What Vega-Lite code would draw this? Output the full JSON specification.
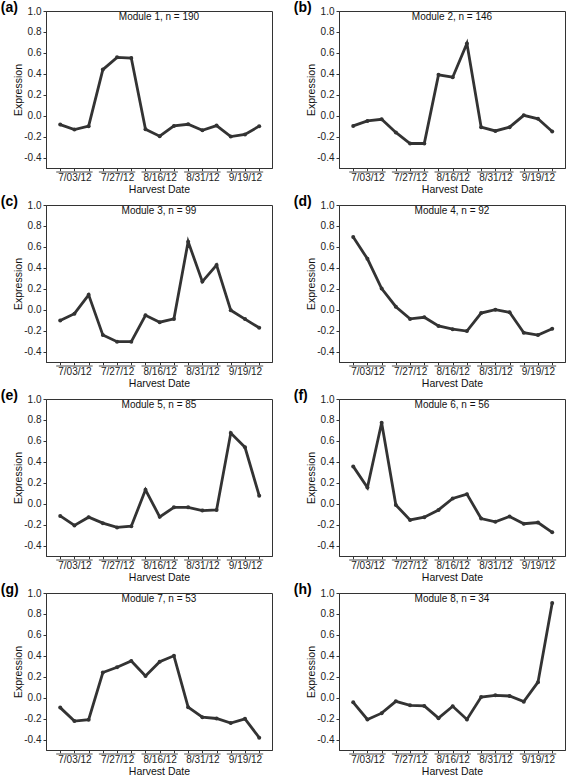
{
  "$schema": "https://vega.github.io/schema/vega-lite/v6.json",
  "padding": {"left": 0, "top": 0, "right": 0, "bottom": 0},
  "background": "white",
  "columns": 2,
  "spacing": {"row": -1, "column": 20},
  "config": {
    "font": "Liberation Sans",
    "view": {"stroke": "#333", "strokeWidth": 1},
    "axis": {
      "grid": false, "domainColor": "#333", "tickColor": "#333", "tickSize": 3,
      "labelFontSize": 10, "labelColor": "#222", "labelPadding": 2, "labelOverlap": false, "labelFlush": false,
      "titleFontSize": 10.5, "titleFontWeight": "normal", "titleColor": "#111", "titlePadding": 2
    },
    "axisX": {"labelPadding": 1},
    "axisY": {"titlePadding": 0},
    "title": {"fontSize": 14, "fontWeight": "bold", "anchor": "start", "frame": "bounds", "offset": -9, "dx": -13, "color": "#000"}
  },
  "datasets": {
    "expr": [
      {"module":1,"sample":1,"expression":-0.085},{"module":1,"sample":2,"expression":-0.133},{"module":1,"sample":3,"expression":-0.10},{"module":1,"sample":4,"expression":0.44},{"module":1,"sample":5,"expression":0.557},{"module":1,"sample":6,"expression":0.55},{"module":1,"sample":7,"expression":-0.13},{"module":1,"sample":8,"expression":-0.196},{"module":1,"sample":9,"expression":-0.098},{"module":1,"sample":10,"expression":-0.082},{"module":1,"sample":11,"expression":-0.139},{"module":1,"sample":12,"expression":-0.095},{"module":1,"sample":13,"expression":-0.20},{"module":1,"sample":14,"expression":-0.18},{"module":1,"sample":15,"expression":-0.10},
      {"module":2,"sample":1,"expression":-0.098},{"module":2,"sample":2,"expression":-0.05},{"module":2,"sample":3,"expression":-0.035},{"module":2,"sample":4,"expression":-0.16},{"module":2,"sample":5,"expression":-0.266},{"module":2,"sample":6,"expression":-0.266},{"module":2,"sample":7,"expression":0.39},{"module":2,"sample":8,"expression":0.367},{"module":2,"sample":9,"expression":0.69},{"module":2,"sample":10,"expression":-0.11},{"module":2,"sample":11,"expression":-0.146},{"module":2,"sample":12,"expression":-0.11},{"module":2,"sample":13,"expression":0.003},{"module":2,"sample":14,"expression":-0.03},{"module":2,"sample":15,"expression":-0.152},
      {"module":3,"sample":1,"expression":-0.104},{"module":3,"sample":2,"expression":-0.038},{"module":3,"sample":3,"expression":0.142},{"module":3,"sample":4,"expression":-0.243},{"module":3,"sample":5,"expression":-0.306},{"module":3,"sample":6,"expression":-0.306},{"module":3,"sample":7,"expression":-0.054},{"module":3,"sample":8,"expression":-0.12},{"module":3,"sample":9,"expression":-0.088},{"module":3,"sample":10,"expression":0.65},{"module":3,"sample":11,"expression":0.268},{"module":3,"sample":12,"expression":0.426},{"module":3,"sample":13,"expression":-0.006},{"module":3,"sample":14,"expression":-0.09},{"module":3,"sample":15,"expression":-0.173},
      {"module":4,"sample":1,"expression":0.694},{"module":4,"sample":2,"expression":0.486},{"module":4,"sample":3,"expression":0.202},{"module":4,"sample":4,"expression":0.028},{"module":4,"sample":5,"expression":-0.088},{"module":4,"sample":6,"expression":-0.073},{"module":4,"sample":7,"expression":-0.155},{"module":4,"sample":8,"expression":-0.186},{"module":4,"sample":9,"expression":-0.205},{"module":4,"sample":10,"expression":-0.032},{"module":4,"sample":11,"expression":0.0},{"module":4,"sample":12,"expression":-0.025},{"module":4,"sample":13,"expression":-0.22},{"module":4,"sample":14,"expression":-0.243},{"module":4,"sample":15,"expression":-0.183},
      {"module":5,"sample":1,"expression":-0.117},{"module":5,"sample":2,"expression":-0.208},{"module":5,"sample":3,"expression":-0.129},{"module":5,"sample":4,"expression":-0.186},{"module":5,"sample":5,"expression":-0.227},{"module":5,"sample":6,"expression":-0.215},{"module":5,"sample":7,"expression":0.132},{"module":5,"sample":8,"expression":-0.126},{"module":5,"sample":9,"expression":-0.035},{"module":5,"sample":10,"expression":-0.035},{"module":5,"sample":11,"expression":-0.066},{"module":5,"sample":12,"expression":-0.06},{"module":5,"sample":13,"expression":0.675},{"module":5,"sample":14,"expression":0.539},{"module":5,"sample":15,"expression":0.076},
      {"module":6,"sample":1,"expression":0.356},{"module":6,"sample":2,"expression":0.155},{"module":6,"sample":3,"expression":0.773},{"module":6,"sample":4,"expression":-0.013},{"module":6,"sample":5,"expression":-0.155},{"module":6,"sample":6,"expression":-0.129},{"module":6,"sample":7,"expression":-0.06},{"module":6,"sample":8,"expression":0.05},{"module":6,"sample":9,"expression":0.091},{"module":6,"sample":10,"expression":-0.142},{"module":6,"sample":11,"expression":-0.173},{"module":6,"sample":12,"expression":-0.123},{"module":6,"sample":13,"expression":-0.192},{"module":6,"sample":14,"expression":-0.18},{"module":6,"sample":15,"expression":-0.274},
      {"module":7,"sample":1,"expression":-0.095},{"module":7,"sample":2,"expression":-0.224},{"module":7,"sample":3,"expression":-0.211},{"module":7,"sample":4,"expression":0.24},{"module":7,"sample":5,"expression":0.29},{"module":7,"sample":6,"expression":0.35},{"module":7,"sample":7,"expression":0.208},{"module":7,"sample":8,"expression":0.344},{"module":7,"sample":9,"expression":0.40},{"module":7,"sample":10,"expression":-0.091},{"module":7,"sample":11,"expression":-0.186},{"module":7,"sample":12,"expression":-0.199},{"module":7,"sample":13,"expression":-0.243},{"module":7,"sample":14,"expression":-0.202},{"module":7,"sample":15,"expression":-0.382},
      {"module":8,"sample":1,"expression":-0.044},{"module":8,"sample":2,"expression":-0.208},{"module":8,"sample":3,"expression":-0.148},{"module":8,"sample":4,"expression":-0.035},{"module":8,"sample":5,"expression":-0.073},{"module":8,"sample":6,"expression":-0.079},{"module":8,"sample":7,"expression":-0.196},{"module":8,"sample":8,"expression":-0.082},{"module":8,"sample":9,"expression":-0.208},{"module":8,"sample":10,"expression":0.006},{"module":8,"sample":11,"expression":0.022},{"module":8,"sample":12,"expression":0.016},{"module":8,"sample":13,"expression":-0.038},{"module":8,"sample":14,"expression":0.148},{"module":8,"sample":15,"expression":0.905}
    ],
    "groups": [
      {"date":"7/03/12","first":1,"last":3},
      {"date":"7/27/12","first":4,"last":6},
      {"date":"8/16/12","first":7,"last":9},
      {"date":"8/31/12","first":10,"last":12},
      {"date":"9/19/12","first":13,"last":15}
    ],
    "modules": [
      {"module":1,"label":"Module 1, n = 190"},
      {"module":2,"label":"Module 2, n = 146"},
      {"module":3,"label":"Module 3, n = 99"},
      {"module":4,"label":"Module 4, n = 92"},
      {"module":5,"label":"Module 5, n = 85"},
      {"module":6,"label":"Module 6, n = 56"},
      {"module":7,"label":"Module 7, n = 53"},
      {"module":8,"label":"Module 8, n = 34"}
    ]
  },
  "concat": [
    {"title": {"text": "(a)"}, "width": 226, "height": 157, "layer": [
      {"data": {"name": "expr"}, "transform": [{"filter": "datum.module == 1"}],
       "mark": {"type": "line", "color": "#333", "strokeWidth": 2.8, "point": {"filled": true, "size": 16, "color": "#333"}},
       "encoding": {
         "x": {"field": "sample", "type": "quantitative", "scale": {"domain": [0, 15.9], "nice": false, "zero": false}, "axis": {"title": "Harvest Date", "tickCount": 30, "values": [1,2,3,4,5,6,7,8,9,10,11,12,13,14,15], "labelExpr": "datum.value == 2 ? '7/03/12' : datum.value == 5 ? '7/27/12' : datum.value == 8 ? '8/16/12' : datum.value == 11 ? '8/31/12' : datum.value == 14 ? '9/19/12' : ''"}},
         "y": {"field": "expression", "type": "quantitative", "scale": {"domain": [-0.5, 1.0], "nice": false, "zero": false}, "axis": {"title": "Expression", "tickCount": 20, "values": [-0.4,-0.2,0,0.2,0.4,0.6,0.8,1.0], "labelExpr": "replace(format(datum.value, '.1f'), '\u2212', '-')"}}
       }},
      {"data": {"name": "groups"}, "mark": {"type": "rule", "color": "#888", "strokeWidth": 1.5, "xOffset": -4, "x2Offset": 4, "yOffset": 4},
       "encoding": {"x": {"field": "first", "type": "quantitative", "axis": {"title": "Harvest Date", "tickCount": 30, "values": [1,2,3,4,5,6,7,8,9,10,11,12,13,14,15], "labelExpr": "datum.value == 2 ? '7/03/12' : datum.value == 5 ? '7/27/12' : datum.value == 8 ? '8/16/12' : datum.value == 11 ? '8/31/12' : datum.value == 14 ? '9/19/12' : ''"}}, "x2": {"field": "last"}, "y": {"datum": -0.5}}},
      {"data": {"name": "modules"}, "transform": [{"filter": "datum.module == 1"}], "mark": {"type": "text", "fontSize": 10, "color": "#111", "baseline": "middle", "yOffset": 6},
       "encoding": {"x": {"datum": 7.95}, "y": {"datum": 1.0}, "text": {"field": "label"}}}
    ]},
    {"title": {"text": "(b)"}, "width": 226, "height": 157, "layer": [
      {"data": {"name": "expr"}, "transform": [{"filter": "datum.module == 2"}],
       "mark": {"type": "line", "color": "#333", "strokeWidth": 2.8, "point": {"filled": true, "size": 16, "color": "#333"}},
       "encoding": {
         "x": {"field": "sample", "type": "quantitative", "scale": {"domain": [0, 15.9], "nice": false, "zero": false}, "axis": {"title": "Harvest Date", "tickCount": 30, "values": [1,2,3,4,5,6,7,8,9,10,11,12,13,14,15], "labelExpr": "datum.value == 2 ? '7/03/12' : datum.value == 5 ? '7/27/12' : datum.value == 8 ? '8/16/12' : datum.value == 11 ? '8/31/12' : datum.value == 14 ? '9/19/12' : ''"}},
         "y": {"field": "expression", "type": "quantitative", "scale": {"domain": [-0.5, 1.0], "nice": false, "zero": false}, "axis": {"title": "Expression", "tickCount": 20, "values": [-0.4,-0.2,0,0.2,0.4,0.6,0.8,1.0], "labelExpr": "replace(format(datum.value, '.1f'), '\u2212', '-')"}}
       }},
      {"data": {"name": "groups"}, "mark": {"type": "rule", "color": "#888", "strokeWidth": 1.5, "xOffset": -4, "x2Offset": 4, "yOffset": 4},
       "encoding": {"x": {"field": "first", "type": "quantitative", "axis": {"title": "Harvest Date", "tickCount": 30, "values": [1,2,3,4,5,6,7,8,9,10,11,12,13,14,15], "labelExpr": "datum.value == 2 ? '7/03/12' : datum.value == 5 ? '7/27/12' : datum.value == 8 ? '8/16/12' : datum.value == 11 ? '8/31/12' : datum.value == 14 ? '9/19/12' : ''"}}, "x2": {"field": "last"}, "y": {"datum": -0.5}}},
      {"data": {"name": "modules"}, "transform": [{"filter": "datum.module == 2"}], "mark": {"type": "text", "fontSize": 10, "color": "#111", "baseline": "middle", "yOffset": 6},
       "encoding": {"x": {"datum": 7.95}, "y": {"datum": 1.0}, "text": {"field": "label"}}}
    ]},
    {"title": {"text": "(c)"}, "width": 226, "height": 157, "layer": [
      {"data": {"name": "expr"}, "transform": [{"filter": "datum.module == 3"}],
       "mark": {"type": "line", "color": "#333", "strokeWidth": 2.8, "point": {"filled": true, "size": 16, "color": "#333"}},
       "encoding": {
         "x": {"field": "sample", "type": "quantitative", "scale": {"domain": [0, 15.9], "nice": false, "zero": false}, "axis": {"title": "Harvest Date", "tickCount": 30, "values": [1,2,3,4,5,6,7,8,9,10,11,12,13,14,15], "labelExpr": "datum.value == 2 ? '7/03/12' : datum.value == 5 ? '7/27/12' : datum.value == 8 ? '8/16/12' : datum.value == 11 ? '8/31/12' : datum.value == 14 ? '9/19/12' : ''"}},
         "y": {"field": "expression", "type": "quantitative", "scale": {"domain": [-0.5, 1.0], "nice": false, "zero": false}, "axis": {"title": "Expression", "tickCount": 20, "values": [-0.4,-0.2,0,0.2,0.4,0.6,0.8,1.0], "labelExpr": "replace(format(datum.value, '.1f'), '\u2212', '-')"}}
       }},
      {"data": {"name": "groups"}, "mark": {"type": "rule", "color": "#888", "strokeWidth": 1.5, "xOffset": -4, "x2Offset": 4, "yOffset": 4},
       "encoding": {"x": {"field": "first", "type": "quantitative", "axis": {"title": "Harvest Date", "tickCount": 30, "values": [1,2,3,4,5,6,7,8,9,10,11,12,13,14,15], "labelExpr": "datum.value == 2 ? '7/03/12' : datum.value == 5 ? '7/27/12' : datum.value == 8 ? '8/16/12' : datum.value == 11 ? '8/31/12' : datum.value == 14 ? '9/19/12' : ''"}}, "x2": {"field": "last"}, "y": {"datum": -0.5}}},
      {"data": {"name": "modules"}, "transform": [{"filter": "datum.module == 3"}], "mark": {"type": "text", "fontSize": 10, "color": "#111", "baseline": "middle", "yOffset": 6},
       "encoding": {"x": {"datum": 7.95}, "y": {"datum": 1.0}, "text": {"field": "label"}}}
    ]},
    {"title": {"text": "(d)"}, "width": 226, "height": 157, "layer": [
      {"data": {"name": "expr"}, "transform": [{"filter": "datum.module == 4"}],
       "mark": {"type": "line", "color": "#333", "strokeWidth": 2.8, "point": {"filled": true, "size": 16, "color": "#333"}},
       "encoding": {
         "x": {"field": "sample", "type": "quantitative", "scale": {"domain": [0, 15.9], "nice": false, "zero": false}, "axis": {"title": "Harvest Date", "tickCount": 30, "values": [1,2,3,4,5,6,7,8,9,10,11,12,13,14,15], "labelExpr": "datum.value == 2 ? '7/03/12' : datum.value == 5 ? '7/27/12' : datum.value == 8 ? '8/16/12' : datum.value == 11 ? '8/31/12' : datum.value == 14 ? '9/19/12' : ''"}},
         "y": {"field": "expression", "type": "quantitative", "scale": {"domain": [-0.5, 1.0], "nice": false, "zero": false}, "axis": {"title": "Expression", "tickCount": 20, "values": [-0.4,-0.2,0,0.2,0.4,0.6,0.8,1.0], "labelExpr": "replace(format(datum.value, '.1f'), '\u2212', '-')"}}
       }},
      {"data": {"name": "groups"}, "mark": {"type": "rule", "color": "#888", "strokeWidth": 1.5, "xOffset": -4, "x2Offset": 4, "yOffset": 4},
       "encoding": {"x": {"field": "first", "type": "quantitative", "axis": {"title": "Harvest Date", "tickCount": 30, "values": [1,2,3,4,5,6,7,8,9,10,11,12,13,14,15], "labelExpr": "datum.value == 2 ? '7/03/12' : datum.value == 5 ? '7/27/12' : datum.value == 8 ? '8/16/12' : datum.value == 11 ? '8/31/12' : datum.value == 14 ? '9/19/12' : ''"}}, "x2": {"field": "last"}, "y": {"datum": -0.5}}},
      {"data": {"name": "modules"}, "transform": [{"filter": "datum.module == 4"}], "mark": {"type": "text", "fontSize": 10, "color": "#111", "baseline": "middle", "yOffset": 6},
       "encoding": {"x": {"datum": 7.95}, "y": {"datum": 1.0}, "text": {"field": "label"}}}
    ]},
    {"title": {"text": "(e)"}, "width": 226, "height": 157, "layer": [
      {"data": {"name": "expr"}, "transform": [{"filter": "datum.module == 5"}],
       "mark": {"type": "line", "color": "#333", "strokeWidth": 2.8, "point": {"filled": true, "size": 16, "color": "#333"}},
       "encoding": {
         "x": {"field": "sample", "type": "quantitative", "scale": {"domain": [0, 15.9], "nice": false, "zero": false}, "axis": {"title": "Harvest Date", "tickCount": 30, "values": [1,2,3,4,5,6,7,8,9,10,11,12,13,14,15], "labelExpr": "datum.value == 2 ? '7/03/12' : datum.value == 5 ? '7/27/12' : datum.value == 8 ? '8/16/12' : datum.value == 11 ? '8/31/12' : datum.value == 14 ? '9/19/12' : ''"}},
         "y": {"field": "expression", "type": "quantitative", "scale": {"domain": [-0.5, 1.0], "nice": false, "zero": false}, "axis": {"title": "Expression", "tickCount": 20, "values": [-0.4,-0.2,0,0.2,0.4,0.6,0.8,1.0], "labelExpr": "replace(format(datum.value, '.1f'), '\u2212', '-')"}}
       }},
      {"data": {"name": "groups"}, "mark": {"type": "rule", "color": "#888", "strokeWidth": 1.5, "xOffset": -4, "x2Offset": 4, "yOffset": 4},
       "encoding": {"x": {"field": "first", "type": "quantitative", "axis": {"title": "Harvest Date", "tickCount": 30, "values": [1,2,3,4,5,6,7,8,9,10,11,12,13,14,15], "labelExpr": "datum.value == 2 ? '7/03/12' : datum.value == 5 ? '7/27/12' : datum.value == 8 ? '8/16/12' : datum.value == 11 ? '8/31/12' : datum.value == 14 ? '9/19/12' : ''"}}, "x2": {"field": "last"}, "y": {"datum": -0.5}}},
      {"data": {"name": "modules"}, "transform": [{"filter": "datum.module == 5"}], "mark": {"type": "text", "fontSize": 10, "color": "#111", "baseline": "middle", "yOffset": 6},
       "encoding": {"x": {"datum": 7.95}, "y": {"datum": 1.0}, "text": {"field": "label"}}}
    ]},
    {"title": {"text": "(f)"}, "width": 226, "height": 157, "layer": [
      {"data": {"name": "expr"}, "transform": [{"filter": "datum.module == 6"}],
       "mark": {"type": "line", "color": "#333", "strokeWidth": 2.8, "point": {"filled": true, "size": 16, "color": "#333"}},
       "encoding": {
         "x": {"field": "sample", "type": "quantitative", "scale": {"domain": [0, 15.9], "nice": false, "zero": false}, "axis": {"title": "Harvest Date", "tickCount": 30, "values": [1,2,3,4,5,6,7,8,9,10,11,12,13,14,15], "labelExpr": "datum.value == 2 ? '7/03/12' : datum.value == 5 ? '7/27/12' : datum.value == 8 ? '8/16/12' : datum.value == 11 ? '8/31/12' : datum.value == 14 ? '9/19/12' : ''"}},
         "y": {"field": "expression", "type": "quantitative", "scale": {"domain": [-0.5, 1.0], "nice": false, "zero": false}, "axis": {"title": "Expression", "tickCount": 20, "values": [-0.4,-0.2,0,0.2,0.4,0.6,0.8,1.0], "labelExpr": "replace(format(datum.value, '.1f'), '\u2212', '-')"}}
       }},
      {"data": {"name": "groups"}, "mark": {"type": "rule", "color": "#888", "strokeWidth": 1.5, "xOffset": -4, "x2Offset": 4, "yOffset": 4},
       "encoding": {"x": {"field": "first", "type": "quantitative", "axis": {"title": "Harvest Date", "tickCount": 30, "values": [1,2,3,4,5,6,7,8,9,10,11,12,13,14,15], "labelExpr": "datum.value == 2 ? '7/03/12' : datum.value == 5 ? '7/27/12' : datum.value == 8 ? '8/16/12' : datum.value == 11 ? '8/31/12' : datum.value == 14 ? '9/19/12' : ''"}}, "x2": {"field": "last"}, "y": {"datum": -0.5}}},
      {"data": {"name": "modules"}, "transform": [{"filter": "datum.module == 6"}], "mark": {"type": "text", "fontSize": 10, "color": "#111", "baseline": "middle", "yOffset": 6},
       "encoding": {"x": {"datum": 7.95}, "y": {"datum": 1.0}, "text": {"field": "label"}}}
    ]},
    {"title": {"text": "(g)"}, "width": 226, "height": 157, "layer": [
      {"data": {"name": "expr"}, "transform": [{"filter": "datum.module == 7"}],
       "mark": {"type": "line", "color": "#333", "strokeWidth": 2.8, "point": {"filled": true, "size": 16, "color": "#333"}},
       "encoding": {
         "x": {"field": "sample", "type": "quantitative", "scale": {"domain": [0, 15.9], "nice": false, "zero": false}, "axis": {"title": "Harvest Date", "tickCount": 30, "values": [1,2,3,4,5,6,7,8,9,10,11,12,13,14,15], "labelExpr": "datum.value == 2 ? '7/03/12' : datum.value == 5 ? '7/27/12' : datum.value == 8 ? '8/16/12' : datum.value == 11 ? '8/31/12' : datum.value == 14 ? '9/19/12' : ''"}},
         "y": {"field": "expression", "type": "quantitative", "scale": {"domain": [-0.5, 1.0], "nice": false, "zero": false}, "axis": {"title": "Expression", "tickCount": 20, "values": [-0.4,-0.2,0,0.2,0.4,0.6,0.8,1.0], "labelExpr": "replace(format(datum.value, '.1f'), '\u2212', '-')"}}
       }},
      {"data": {"name": "groups"}, "mark": {"type": "rule", "color": "#888", "strokeWidth": 1.5, "xOffset": -4, "x2Offset": 4, "yOffset": 4},
       "encoding": {"x": {"field": "first", "type": "quantitative", "axis": {"title": "Harvest Date", "tickCount": 30, "values": [1,2,3,4,5,6,7,8,9,10,11,12,13,14,15], "labelExpr": "datum.value == 2 ? '7/03/12' : datum.value == 5 ? '7/27/12' : datum.value == 8 ? '8/16/12' : datum.value == 11 ? '8/31/12' : datum.value == 14 ? '9/19/12' : ''"}}, "x2": {"field": "last"}, "y": {"datum": -0.5}}},
      {"data": {"name": "modules"}, "transform": [{"filter": "datum.module == 7"}], "mark": {"type": "text", "fontSize": 10, "color": "#111", "baseline": "middle", "yOffset": 6},
       "encoding": {"x": {"datum": 7.95}, "y": {"datum": 1.0}, "text": {"field": "label"}}}
    ]},
    {"title": {"text": "(h)"}, "width": 226, "height": 157, "layer": [
      {"data": {"name": "expr"}, "transform": [{"filter": "datum.module == 8"}],
       "mark": {"type": "line", "color": "#333", "strokeWidth": 2.8, "point": {"filled": true, "size": 16, "color": "#333"}},
       "encoding": {
         "x": {"field": "sample", "type": "quantitative", "scale": {"domain": [0, 15.9], "nice": false, "zero": false}, "axis": {"title": "Harvest Date", "tickCount": 30, "values": [1,2,3,4,5,6,7,8,9,10,11,12,13,14,15], "labelExpr": "datum.value == 2 ? '7/03/12' : datum.value == 5 ? '7/27/12' : datum.value == 8 ? '8/16/12' : datum.value == 11 ? '8/31/12' : datum.value == 14 ? '9/19/12' : ''"}},
         "y": {"field": "expression", "type": "quantitative", "scale": {"domain": [-0.5, 1.0], "nice": false, "zero": false}, "axis": {"title": "Expression", "tickCount": 20, "values": [-0.4,-0.2,0,0.2,0.4,0.6,0.8,1.0], "labelExpr": "replace(format(datum.value, '.1f'), '\u2212', '-')"}}
       }},
      {"data": {"name": "groups"}, "mark": {"type": "rule", "color": "#888", "strokeWidth": 1.5, "xOffset": -4, "x2Offset": 4, "yOffset": 4},
       "encoding": {"x": {"field": "first", "type": "quantitative", "axis": {"title": "Harvest Date", "tickCount": 30, "values": [1,2,3,4,5,6,7,8,9,10,11,12,13,14,15], "labelExpr": "datum.value == 2 ? '7/03/12' : datum.value == 5 ? '7/27/12' : datum.value == 8 ? '8/16/12' : datum.value == 11 ? '8/31/12' : datum.value == 14 ? '9/19/12' : ''"}}, "x2": {"field": "last"}, "y": {"datum": -0.5}}},
      {"data": {"name": "modules"}, "transform": [{"filter": "datum.module == 8"}], "mark": {"type": "text", "fontSize": 10, "color": "#111", "baseline": "middle", "yOffset": 6},
       "encoding": {"x": {"datum": 7.95}, "y": {"datum": 1.0}, "text": {"field": "label"}}}
    ]}
  ]
}
